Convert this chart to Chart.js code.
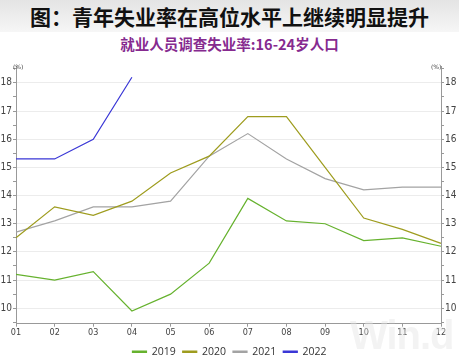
<!DOCTYPE html>
<html>
<head>
<meta charset="utf-8">
<script src="https://cdn.jsdelivr.net/npm/chart.js@4.4.1/dist/chart.umd.min.js"></script>
<style>
html,body{margin:0;padding:0;background:#fff;}
#wrap{position:relative;width:459px;height:357px;overflow:hidden;background:#fff;}
#title{position:absolute;left:0;top:0;width:459px;height:32px;background:linear-gradient(#e4e4e4,#f6f6f6);font-family:"Noto Sans CJK SC";font-weight:bold;font-size:21px;line-height:32px;text-align:center;color:#111;}
#sub{position:absolute;left:0;top:34px;width:459px;height:20px;font-family:"Noto Sans CJK SC";font-weight:bold;font-size:14.5px;line-height:20px;text-align:center;color:#862a8f;}
#cv{position:absolute;left:0;top:56px;}
.pct{position:absolute;top:63px;font-family:"DejaVu Sans";font-size:6px;color:#444;}
#wm{position:absolute;left:350px;top:313px;font-family:"Liberation Sans";font-weight:bold;font-size:40px;color:rgba(228,228,228,0.45);letter-spacing:-1px;}
</style>
</head>
<body>
<div id="wrap">
<div id="title">图：青年失业率在高位水平上继续明显提升</div>
<div id="sub">就业人员调查失业率:16-24岁人口</div>
<canvas id="cv" width="459" height="311"></canvas>
<div class="pct" style="left:13px">(%)</div>
<div class="pct" style="left:431px">(%)</div>
<div id="wm">Win.d</div>
</div>
<script>
const categories = ["01","02","03","04","05","06","07","08","09","10","11","12"];
const s2019 = [11.2, 11.0, 11.3, 9.9, 10.5, 11.6, 13.9, 13.1, 13.0, 12.4, 12.5, 12.2];
const s2020 = [12.5, 13.6, 13.3, 13.8, 14.8, 15.4, 16.8, 16.8, 15.0, 13.2, 12.8, 12.3];
const s2021 = [12.7, 13.1, 13.6, 13.6, 13.8, 15.4, 16.2, 15.3, 14.6, 14.2, 14.3, 14.3];
const s2022 = [15.3, 15.3, 16.0, 18.2];
const yTicks = [10, 11, 12, 13, 14, 15, 16, 17, 18];

const mk = (label, data, color) => ({label, data, borderColor: color, backgroundColor: color, borderWidth: 1.2, pointRadius: 0, tension: 0, fill: false});

function yBuild(scale) {
  const t = [];
  for (let v = 9.5; v <= 18.5; v += 0.5) t.push({value: v});
  scale.ticks = t;
}
const yTickCb = v => (Number.isInteger(v) && yTicks.includes(v)) ? String(v) : '';
const gridColor = ctx => (ctx.tick && Number.isInteger(ctx.tick.value)) ? '#ececec' : 'rgba(0,0,0,0)';

new Chart(document.getElementById('cv'), {
  type: 'line',
  data: {
    labels: categories,
    datasets: [
      mk('2019', s2019, '#66b22e'),
      mk('2020', s2020, '#9e9c1e'),
      mk('2021', s2021, '#a3a3a3'),
      mk('2022', s2022, '#3a37d6')
    ]
  },
  options: {
    responsive: false,
    animation: false,
    layout: {padding: {top: 10, bottom: 0, left: 0, right: 0}},
    plugins: {
      title: {display: false},
      tooltip: {enabled: false},
      legend: {
        position: 'bottom',
        labels: {
          boxWidth: 14, boxHeight: 1.5, padding: 7,
          font: {family: 'Open Sans', size: 10.5},
          color: '#333'
        }
      }
    },
    scales: {
      x: {
        offset: false,
        grid: {display: true, drawOnChartArea: false, tickLength: 3, color: '#999'},
        border: {color: '#999'},
        ticks: {font: {family: 'DejaVu Sans Condensed', size: 9}, color: '#444', padding: 1, maxRotation: 0, autoSkip: false}
      },
      y: {
        position: 'left',
        min: 9.45, max: 18.6,
        afterBuildTicks: yBuild,
        afterFit: s => { s.width = 16; },
        grid: {color: gridColor, tickColor: '#999', tickLength: 3},
        border: {color: '#999'},
        ticks: {callback: yTickCb, font: {family: 'DejaVu Sans Condensed', size: 10}, color: '#444', padding: 1, autoSkip: false}
      },
      y2: {
        position: 'right',
        min: 9.45, max: 18.6,
        afterBuildTicks: yBuild,
        afterFit: s => { s.width = 18; },
        grid: {drawOnChartArea: false, tickColor: '#999', tickLength: 3},
        border: {color: '#999'},
        ticks: {callback: yTickCb, font: {family: 'DejaVu Sans Condensed', size: 10}, color: '#444', padding: 1, autoSkip: false}
      }
    }
  }
});
</script>
</body>
</html>
